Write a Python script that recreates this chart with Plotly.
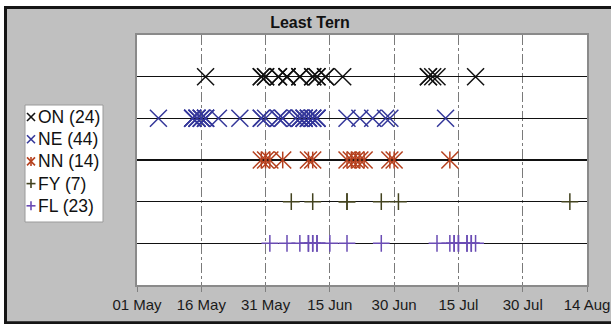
import plotly.graph_objects as go

# ---------------- data ----------------
series_names = ["ON (24)", "NE (44)", "NN (14)", "FY (7)", "FL (23)"]
series_rows = [5, 4, 3, 2, 1]

on_dates = ["2013-05-17", "2013-05-30", "2013-05-31", "2013-06-03", "2013-06-05",
            "2013-06-08", "2013-06-11", "2013-06-12", "2013-06-14", "2013-06-18",
            "2013-07-08", "2013-07-09", "2013-07-10", "2013-07-19",
            "2013-05-30", "2013-05-31", "2013-06-03", "2013-06-05", "2013-06-08",
            "2013-06-11", "2013-06-12", "2013-06-14", "2013-07-08", "2013-06-05"]

ne_dates = ["2013-05-06", "2013-05-14", "2013-05-15", "2013-05-16", "2013-05-17",
            "2013-05-20", "2013-05-25", "2013-05-30", "2013-05-31", "2013-06-03",
            "2013-06-04", "2013-06-07", "2013-06-08", "2013-06-09", "2013-06-10",
            "2013-06-11", "2013-06-12", "2013-06-19", "2013-06-22", "2013-06-25",
            "2013-06-28", "2013-06-29", "2013-07-12",
            "2013-05-14", "2013-05-15", "2013-05-16", "2013-05-17",
            "2013-05-14", "2013-05-15", "2013-05-16", "2013-05-17",
            "2013-06-08", "2013-06-09", "2013-06-10", "2013-06-11", "2013-06-12",
            "2013-06-08", "2013-06-09", "2013-06-10", "2013-06-11", "2013-06-12",
            "2013-05-30", "2013-06-03", "2013-06-04"]

nn_dates = ["2013-05-30", "2013-05-31", "2013-06-01", "2013-06-04", "2013-06-10",
            "2013-06-11", "2013-06-19", "2013-06-20", "2013-06-21", "2013-06-22",
            "2013-06-23", "2013-06-29", "2013-06-30", "2013-07-13"]

fy_dates = ["2013-06-06", "2013-06-11", "2013-06-19", "2013-06-27", "2013-07-01",
            "2013-08-10", "2013-06-19"]

fl_dates = ["2013-06-01", "2013-06-05", "2013-06-08", "2013-06-10", "2013-06-11",
            "2013-06-12", "2013-06-15", "2013-06-19", "2013-06-27", "2013-07-10",
            "2013-07-13", "2013-07-14", "2013-07-15", "2013-07-17", "2013-07-18",
            "2013-07-19",
            "2013-06-10", "2013-06-11", "2013-06-12", "2013-07-14", "2013-07-15",
            "2013-07-17", "2013-07-18"]

tick_dates = ["2013-05-01", "2013-05-16", "2013-05-31", "2013-06-15",
              "2013-06-30", "2013-07-15", "2013-07-30", "2013-08-14"]
tick_labels = ["01 May", "16 May", "31 May", "15 Jun", "30 Jun", "15 Jul", "30 Jul", "14 Aug"]

# ---------------- styling ----------------
W, H = 611, 324
PL, PR, PT, PB = 137, 587, 35, 285   # plot area in pixels
FONT = "Liberation Sans, Arial, sans-serif"

def px_x(p):
    return (p - PL) / (PR - PL)

def px_y(p):
    return (PB - p) / (PB - PT)

c_on = "#111111"
c_ne = "#34379a"
c_nn = "#b5401e"
c_fy = "#43431f"
c_fl = "#6a4cb4"
colors = [c_on, c_ne, c_nn, c_fy, c_fl]
glyphs = ["x", "x", "asterisk", "plus", "plus"]

fig = go.Figure()

def add(dates, row, name, color, symbol, size):
    fig.add_trace(go.Scatter(
        x=dates, y=[row] * len(dates), mode="markers", name=name,
        showlegend=False,
        marker=dict(symbol=symbol, size=size, color=color,
                    line=dict(color=color, width=1.5)),
    ))

add(on_dates, series_rows[0], series_names[0], c_on, "x-thin-open", 17)
add(ne_dates, series_rows[1], series_names[1], c_ne, "x-thin-open", 17)
add(nn_dates, series_rows[2], series_names[2], c_nn, "x-thin-open", 17)
add(nn_dates, series_rows[2], series_names[2], c_nn, "line-ns-open", 12)
add(fy_dates, series_rows[3], series_names[3], c_fy, "cross-thin-open", 12)
add(fl_dates, series_rows[4], series_names[4], c_fl, "cross-thin-open", 12)

shapes = [
    # white outer strips
    dict(type="rect", xref="paper", yref="paper", x0=px_x(-5), x1=px_x(W + 5),
         y0=px_y(-5), y1=px_y(6), fillcolor="white", line=dict(width=0), layer="below"),
    dict(type="rect", xref="paper", yref="paper", x0=px_x(-5), x1=px_x(4),
         y0=px_y(H + 5), y1=px_y(-5), fillcolor="white", line=dict(width=0), layer="below"),
    # dark frame
    dict(type="line", xref="paper", yref="paper", x0=px_x(4), x1=px_x(W),
         y0=px_y(7.5), y1=px_y(7.5), line=dict(color="#151515", width=3)),
    dict(type="line", xref="paper", yref="paper", x0=px_x(5.5), x1=px_x(5.5),
         y0=px_y(6), y1=px_y(H), line=dict(color="#151515", width=3)),
    dict(type="line", xref="paper", yref="paper", x0=px_x(4), x1=px_x(W),
         y0=px_y(322.8), y1=px_y(322.8), line=dict(color="#151515", width=3)),
    # legend box
    dict(type="rect", xref="paper", yref="paper", x0=px_x(25), x1=px_x(103),
         y0=px_y(222), y1=px_y(105), fillcolor="white",
         line=dict(color="#9a9a9a", width=1)),
]

annotations = []
leg_y0, leg_dy, gx, gs = 117, 22.2, 31, 4
for i, (name, col, g) in enumerate(zip(series_names, colors, glyphs)):
    cy = leg_y0 + i * leg_dy
    segs = []
    if g in ("x", "asterisk"):
        segs.append((gx - gs, cy - gs, gx + gs, cy + gs))
        segs.append((gx - gs, cy + gs, gx + gs, cy - gs))
    if g == "asterisk":
        segs.append((gx, cy - gs - 0.5, gx, cy + gs + 0.5))
    if g == "plus":
        segs.append((gx - gs - 0.5, cy, gx + gs + 0.5, cy))
        segs.append((gx, cy - gs - 0.5, gx, cy + gs + 0.5))
    for (x0, y0, x1, y1) in segs:
        shapes.append(dict(type="line", xref="paper", yref="paper",
                           x0=px_x(x0), y0=px_y(y0), x1=px_x(x1), y1=px_y(y1),
                           line=dict(color=col, width=1.6)))
    annotations.append(dict(text=name, xref="paper", yref="paper",
                            x=px_x(36), y=px_y(cy), xanchor="left", yanchor="middle",
                            showarrow=False,
                            font=dict(family=FONT, size=17.5, color="#111111")))

fig.update_layout(
    width=W, height=H,
    margin=dict(l=PL, r=W - PR, t=PT, b=H - PB, autoexpand=False),
    paper_bgcolor="#c0c0c0",
    plot_bgcolor="white",
    font=dict(family=FONT, size=15, color="#1a1a1a"),
    title=dict(text="<b>Least Tern</b>", x=310 / W, xanchor="center",
               y=1 - 22 / H, yanchor="middle",
               font=dict(family=FONT, size=16, color="#111111")),
    shapes=shapes,
    annotations=annotations,
    showlegend=False,
    hovermode=False,
    xaxis=dict(type="date", range=[tick_dates[0], tick_dates[-1]],
               tickvals=tick_dates, ticktext=tick_labels,
               ticks="outside", ticklen=5, tickcolor="#808080",
               showgrid=True, gridcolor="#7a7a7a", gridwidth=1,
               griddash="10px,3px,3px,3px",
               showline=True, mirror=True, linecolor="#8a8a8a", linewidth=2,
               zeroline=False, automargin=False, ticklabeloverflow="allow",
               tickfont=dict(family=FONT, size=15, color="#1a1a1a")),
    yaxis=dict(range=[0, 6], tickvals=series_rows, showticklabels=False,
               ticks="", showgrid=True, gridcolor="#111111", gridwidth=1.4,
               showline=True, mirror=True, linecolor="#8a8a8a", linewidth=2,
               zeroline=False, automargin=False),
)

fig.write_html("out.html",
               config={"displayModeBar": False, "staticPlot": True},
               post_script=("document.body.style.margin='0';"
                            "document.body.style.overflow='hidden';"
                            "document.documentElement.style.overflow='hidden';"))
